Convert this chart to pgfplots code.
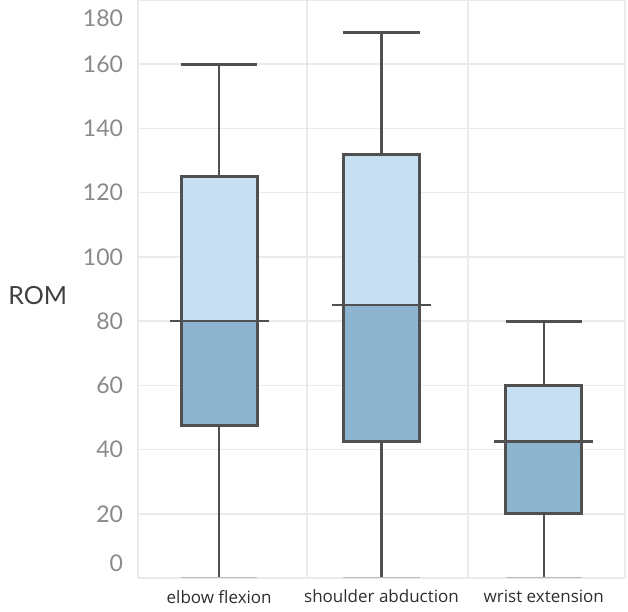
\documentclass[border=0pt]{standalone}
\usepackage{fontspec}
\setmainfont{Lato}
\newfontfamily\catfont{Open Sans}
\usepackage{pgfplots}
\pgfplotsset{compat=1.18}
\usepgfplotslibrary{statistics}
\definecolor{lightbox}{HTML}{C6E0F2}
\definecolor{darkbox}{HTML}{8DB5CF}
\definecolor{edge}{HTML}{505050}
\definecolor{gridc}{HTML}{EBEBEB}
\definecolor{tickc}{HTML}{8A8A8A}
\begin{document}
\begin{tikzpicture}
\begin{axis}[
  scale only axis, width=243.5bp, height=289bp,
  xmin=-0.5, xmax=2.5, ymin=0, ymax=180,
  axis line style={draw=none},
  xtick={0,1,2},
  xticklabels={elbow flexion, shoulder abduction, wrist extension},
  minor xtick={-0.5,0.541,1.533,2.5},
  ytick={0,20,...,180},
  xmajorgrids=false, xminorgrids=true, ymajorgrids=true,
  grid style={gridc, line width=0.75bp},
  minor grid style={gridc, line width=0.75bp},
  major tick length=0pt, minor tick length=0pt,
  tick style={draw=none},
  xticklabel style={font=\catfont\fontsize{8.5bp}{10bp}\selectfont, text=black!82, yshift=-2.5bp},
  yticklabel style={font=\fontsize{11.5bp}{13bp}\selectfont, text=tickc, xshift=-4bp},
  yticklabel={\pgfmathtruncatemacro\tv{\tick}\ifnum\tv=180 \raisebox{-9bp}[\height][\depth]{\tv}\else\ifnum\tv=0 \raisebox{7.5bp}[\height][\depth]{\tv}\else\tv\fi\fi},
  ylabel={ROM},
  every axis y label/.style={at={(axis description cs:-0.267,0.488)}, anchor=west, inner sep=0pt, font=\fontsize{12.5bp}{14bp}\selectfont, text=black!75},
  boxplot/draw direction=y,
  boxplot/draw/box/.code={
    \fill[darkbox] (boxplot box cs:\pgfplotsboxplotvalue{lower quartile},0) rectangle (boxplot box cs:\pgfplotsboxplotvalue{median},1);
    \fill[lightbox] (boxplot box cs:\pgfplotsboxplotvalue{median},0) rectangle (boxplot box cs:\pgfplotsboxplotvalue{upper quartile},1);
    \draw[edge, line width=1.5bp] (boxplot box cs:\pgfplotsboxplotvalue{lower quartile},0) rectangle (boxplot box cs:\pgfplotsboxplotvalue{upper quartile},1);
  },
  boxplot/draw/median/.code={
    \draw[edge, line width=1.3bp] (boxplot box cs:\pgfplotsboxplotvalue{median},-0.15) -- (boxplot box cs:\pgfplotsboxplotvalue{median},1.15);
  },
  boxplot/draw/lower whisker/.code={
    \draw[edge, line width=1.25bp] (boxplot cs:\pgfplotsboxplotvalue{lower whisker}) -- (boxplot cs:\pgfplotsboxplotvalue{lower quartile});
    \draw[gray!55, line width=1.25bp] (boxplot whisker cs:\pgfplotsboxplotvalue{lower whisker},0) -- (boxplot whisker cs:\pgfplotsboxplotvalue{lower whisker},1);
  },
  boxplot/draw/upper whisker/.code={
    \draw[edge, line width=1.25bp] (boxplot cs:\pgfplotsboxplotvalue{upper quartile}) -- (boxplot cs:\pgfplotsboxplotvalue{upper whisker});
    \draw[edge, line width=1.5bp] (boxplot whisker cs:\pgfplotsboxplotvalue{upper whisker},0) -- (boxplot whisker cs:\pgfplotsboxplotvalue{upper whisker},1);
  },
]
\addplot[boxplot prepared={draw position=0, lower whisker=0, lower quartile=47.5, median=80, upper quartile=125, upper whisker=160, box extend=0.47, whisker extend=0.47}] coordinates {};
\addplot[boxplot prepared={draw position=1, lower whisker=0, lower quartile=42.5, median=85, upper quartile=132, upper whisker=170, box extend=0.47, whisker extend=0.47}] coordinates {};
\addplot[boxplot prepared={draw position=2, lower whisker=0, lower quartile=20, median=42.5, upper quartile=60, upper whisker=80, box extend=0.47, whisker extend=0.47}] coordinates {};
\end{axis}
\pgfresetboundingbox
\path (current axis.south west) ++(-69bp,-17bp) rectangle ++(314bp,306bp);
\end{tikzpicture}
\end{document}
